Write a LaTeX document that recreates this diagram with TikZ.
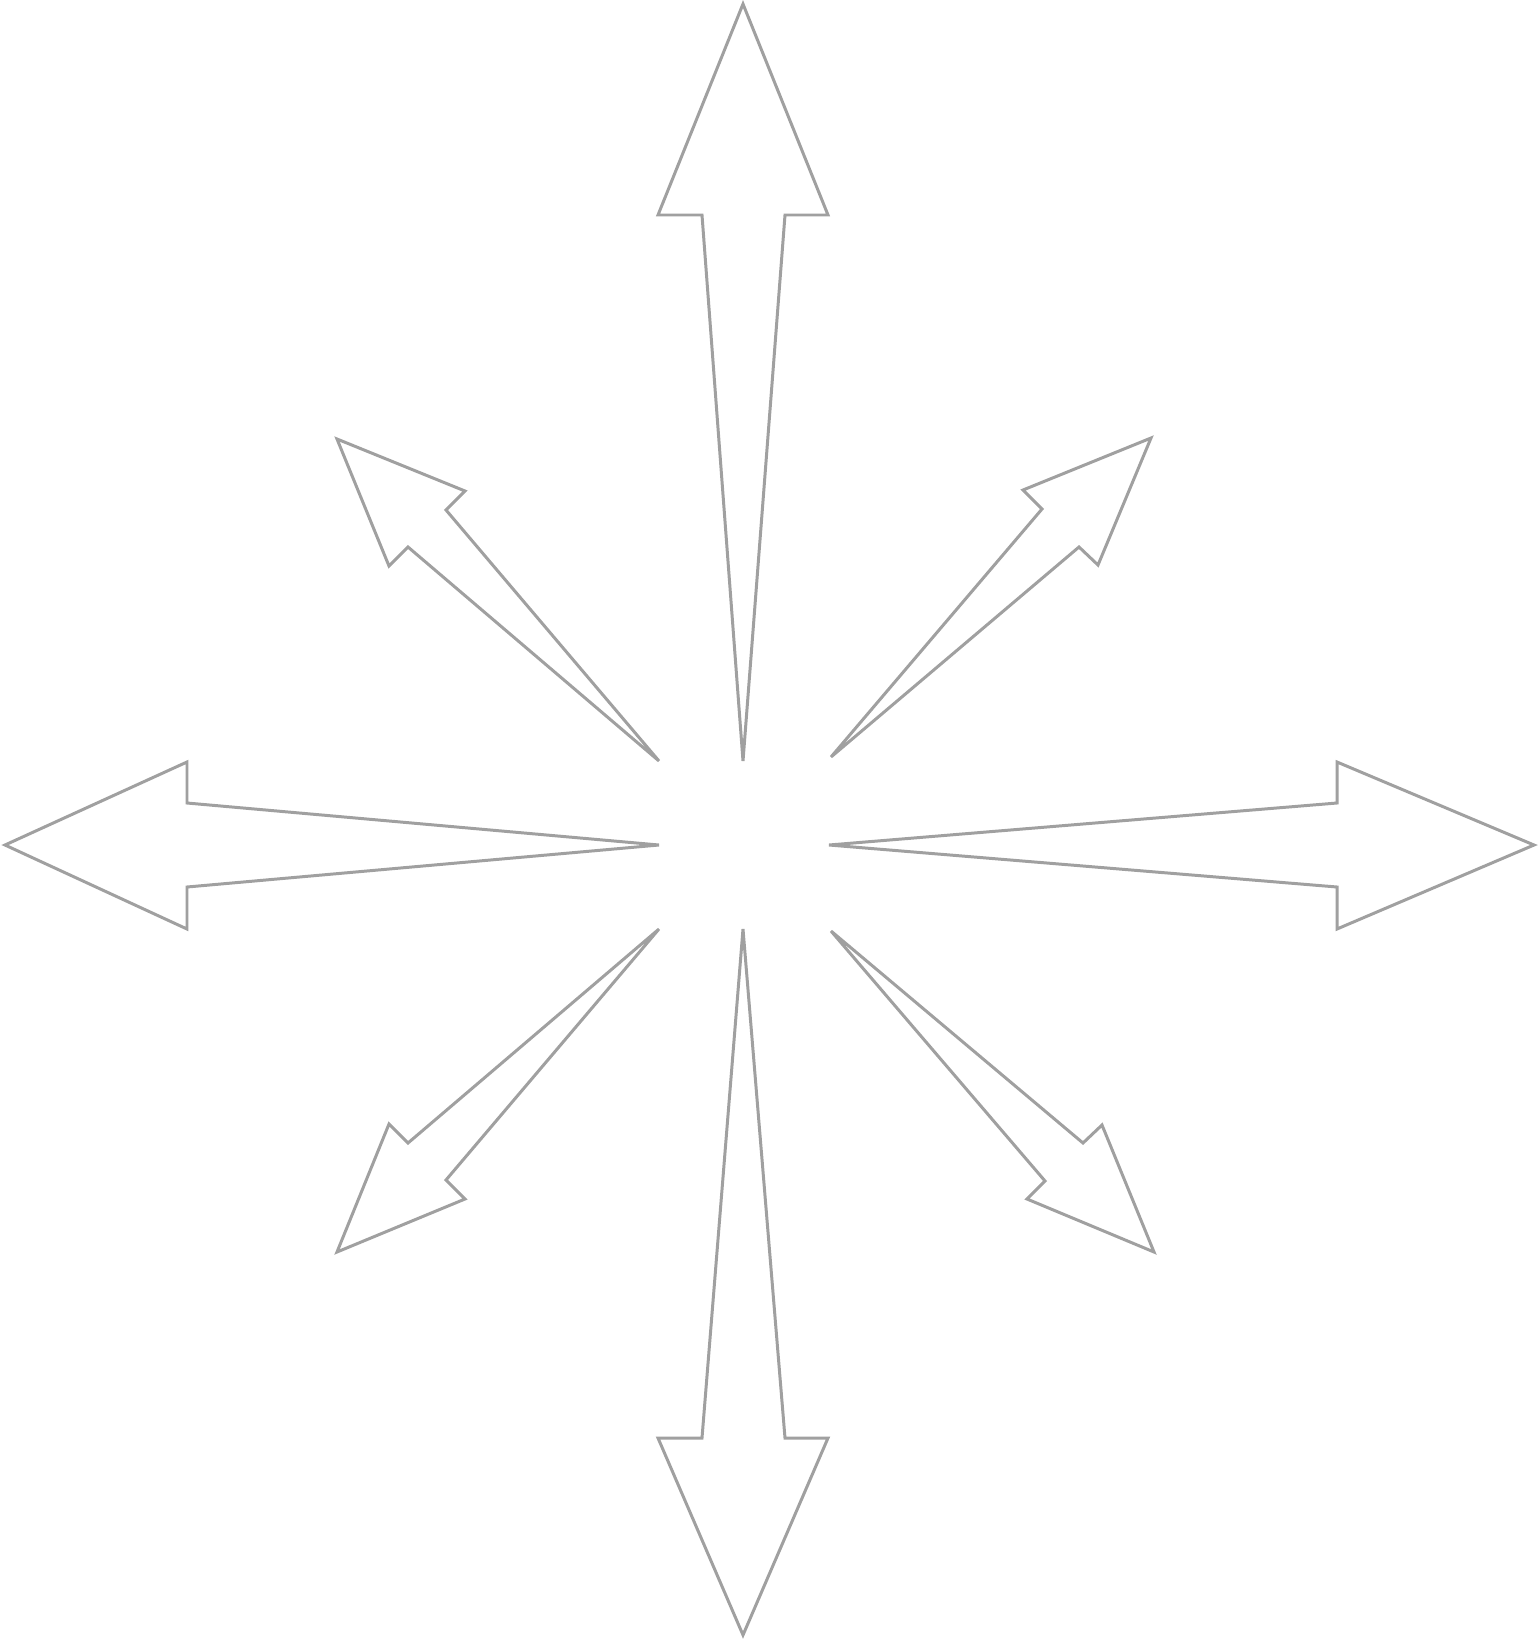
\documentclass[tikz,border=0pt]{standalone}
\definecolor{arrowgray}{HTML}{A0A0A0}
\begin{document}
\begin{tikzpicture}[x=0.02cm, y=0.02cm]
\tikzstyle{arrowline}=[draw=arrowgray, line width=1.7pt, fill=white]
\useasboundingbox (0,0) rectangle (1538,-1640);
% up
\draw [arrowline] (743,-761) -- (702,-215) -- (658,-215) -- (743,-4) -- (828,-215) -- (785,-215) -- cycle;
% down
\draw [arrowline] (743,-929) -- (702,-1438) -- (658,-1438) -- (743,-1635) -- (828,-1438) -- (785,-1438) -- cycle;
% left
\draw [arrowline] (659,-845) -- (187,-803) -- (187,-762) -- (5,-845) -- (187,-929) -- (187,-887) -- cycle;
% right
\draw [arrowline] (829,-845) -- (1337,-803) -- (1337,-762) -- (1534,-845) -- (1337,-929) -- (1337,-887) -- cycle;
% upper left
\draw [arrowline] (659,-761) -- (446,-510) -- (465,-491) -- (337,-439) -- (389,-566) -- (408,-547) -- cycle;
% upper right
\draw [arrowline] (831,-757) -- (1042,-509) -- (1023,-490) -- (1151,-438) -- (1098,-565) -- (1079,-547) -- cycle;
% lower left
\draw [arrowline] (659,-929) -- (446,-1180) -- (465,-1199) -- (337,-1252) -- (389,-1124) -- (408,-1143) -- cycle;
% lower right
\draw [arrowline] (831,-931) -- (1045,-1181) -- (1027,-1199) -- (1154,-1252) -- (1102,-1125) -- (1083,-1143) -- cycle;
\end{tikzpicture}
\end{document}
